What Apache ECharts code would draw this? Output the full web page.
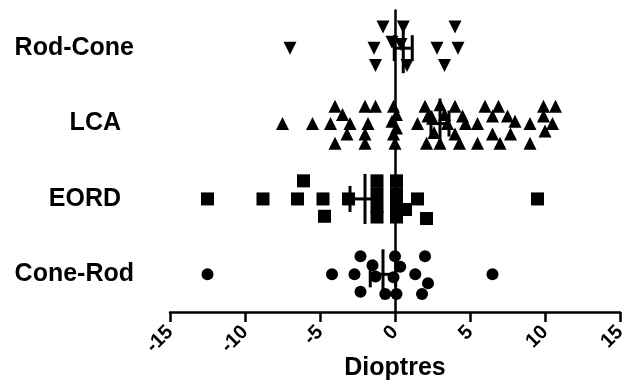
<!DOCTYPE html>
<html>
<head>
<meta charset="utf-8">
<script src="https://cdn.jsdelivr.net/npm/echarts@6/dist/echarts.min.js"></script>
<style>
  html, body { margin: 0; padding: 0; background: #fff; }
  #chart { width: 625px; height: 381px; }
</style>
</head>
<body>
<div id="chart"></div>
<script>
// groups bottom to top, index = row on the value axis
let groups = ["Cone-Rod", "EORD", "LCA", "Rod-Cone"];

// [dioptres, vertical scatter offset inside the row]
let coneRod = [
  [-12.5, 0], [-4.2, 0], [-2.3, 0.24], [-2.7, 0], [-2.3, -0.23], [-1.5, 0.12],
  [-1.3, -0.03], [-0.65, -0.26], [0, 0.24], [0.35, 0.1], [-0.1, -0.04], [0.1, -0.26],
  [2.0, 0.24], [1.35, 0], [2.2, -0.12], [1.8, -0.26], [6.5, 0]
];
let eord = [
  [-12.5, 0], [-8.8, 0], [-6.1, 0.24], [-6.5, 0], [-4.8, 0], [-4.7, -0.23], [-3.1, 0],
  [-1.2, 0.24], [-1.2, 0.07], [-1.2, -0.1], [-1.2, -0.24],
  [0.1, 0.24], [0.1, 0.07], [0.1, -0.1], [0.1, -0.24],
  [0.7, -0.14], [1.5, 0], [2.1, -0.26], [9.5, 0]
];
let lca = [
  [-7.5, 0], [-5.5, 0], [-4.0, 0.23], [-4.3, 0], [-3.5, 0.12], [-4.0, -0.26], [-3.2, -0.14],
  [-3.0, 0], [-2.0, 0.23], [-1.3, 0.23], [-1.8, 0], [-2.0, -0.14], [-2.0, -0.26],
  [-0.1, 0.23], [0.1, 0.12], [-0.2, 0.03], [0.1, -0.06], [-0.1, -0.14], [0, -0.26],
  [1.5, 0], [2.0, 0.23], [2.1, -0.26], [3.0, 0.25], [4.0, 0.23], [2.5, 0.07], [3.0, -0.26],
  [3.5, 0], [4.5, 0.1], [4.7, 0], [4.0, -0.14], [4.3, -0.26], [5.5, 0], [5.5, -0.26],
  [6.0, 0.23], [6.9, 0.23], [6.5, 0.1], [7.5, 0.1], [8.0, 0.03], [6.5, -0.14], [7.0, -0.26],
  [7.7, -0.14], [9.0, 0], [9.0, -0.26], [9.9, 0.23], [10.7, 0.23], [10.5, 0], [10.0, -0.1],
  [9.9, 0.1], [2.6, -0.12], [2.2, 0.1], [3.3, 0.12]
];
let rodCone = [
  [-7.0, 0], [-0.8, 0.28], [0.55, 0.28], [-1.4, 0], [-1.3, -0.23], [0.8, -0.23],
  [2.8, 0], [4.0, 0.28], [4.2, 0], [3.3, -0.23], [-0.2, 0.08], [0.4, 0.05]
];

// mean and SEM per group, same order as groups
let means = [-0.8, -2.0, 3.0, 0.55];
let sems = [0.85, 1.0, 0.6, 0.6];

let row = function (pts, idx) {
  return pts.map(function (p) { return [p[0], idx + p[1]]; });
};

let markerSeries = function (name, pts, idx, symbol, rotate) {
  return {
    name: name,
    type: "scatter",
    yAxisIndex: 0,
    symbol: symbol,
    symbolSize: symbol === "circle" ? 12 : 13,
    symbolRotate: rotate || 0,
    itemStyle: { color: "#000", opacity: 1 },
    data: row(pts, idx)
  };
};

let barData = means.map(function (m, i) { return [m, sems[i], i]; });

let labelFont = { color: "#000", fontSize: 25, fontWeight: "bold", fontFamily: "Liberation Sans" };

let option = {
  animation: false,
  grid: { left: 170, right: 5, top: 10.5, bottom: 69, outerBoundsMode: "none" },
  xAxis: {
    type: "value",
    min: -15,
    max: 15,
    interval: 5,
    name: "Dioptres",
    nameLocation: "middle",
    nameGap: 44,
    nameMoveOverlap: false,
    nameTextStyle: labelFont,
    axisLine: { onZero: false, lineStyle: { color: "#000", width: 2.5 } },
    axisTick: { length: 10, lineStyle: { color: "#000", width: 2.5 } },
    axisLabel: { rotate: 45, margin: 17, color: "#000", fontSize: 20, fontWeight: "bold", fontFamily: "Liberation Sans" },
    splitLine: { show: false }
  },
  yAxis: [
    {
      type: "value",
      min: -0.5,
      max: 3.5,
      axisLine: { show: true, onZero: true, lineStyle: { color: "#000", width: 2.5 } },
      axisTick: { show: false },
      axisLabel: { show: false },
      splitLine: { show: false }
    },
    {
      type: "category",
      position: "left",
      data: groups,
      axisLine: { show: false, onZero: false },
      axisTick: { show: false },
      axisLabel: Object.assign({
        margin: 36,
        formatter: function (v) { return v.length < 5 ? "{s|" + v + "}" : v; },
        rich: { s: Object.assign({ padding: [0, 13, 0, 0] }, labelFont) }
      }, labelFont),
      splitLine: { show: false }
    }
  ],
  series: [
    markerSeries("Cone-Rod", coneRod, 0, "circle"),
    markerSeries("EORD", eord, 1, "rect"),
    markerSeries("LCA", lca, 2, "triangle"),
    markerSeries("Rod-Cone", rodCone, 3, "triangle", 180),
    {
      type: "custom",
      yAxisIndex: 0,
      z: 5,
      data: barData,
      renderItem: function (params, api) {
        let m = api.value(0), s = api.value(1), y = api.value(2);
        let c = api.coord([m, y]);
        let lo = api.coord([m - s, y]);
        let hi = api.coord([m + s, y]);
        let st = { stroke: "#000", lineWidth: 3 };
        return {
          type: "group",
          children: [
            { type: "line", shape: { x1: c[0], y1: c[1] - 25, x2: c[0], y2: c[1] + 25 }, style: st },
            { type: "line", shape: { x1: lo[0], y1: c[1], x2: hi[0], y2: c[1] }, style: st },
            { type: "line", shape: { x1: lo[0], y1: c[1] - 13, x2: lo[0], y2: c[1] + 13 }, style: st },
            { type: "line", shape: { x1: hi[0], y1: c[1] - 13, x2: hi[0], y2: c[1] + 13 }, style: st }
          ]
        };
      }
    }
  ]
};

let chart = echarts.init(document.getElementById("chart"));
chart.setOption(option);
</script>
</body>
</html>
